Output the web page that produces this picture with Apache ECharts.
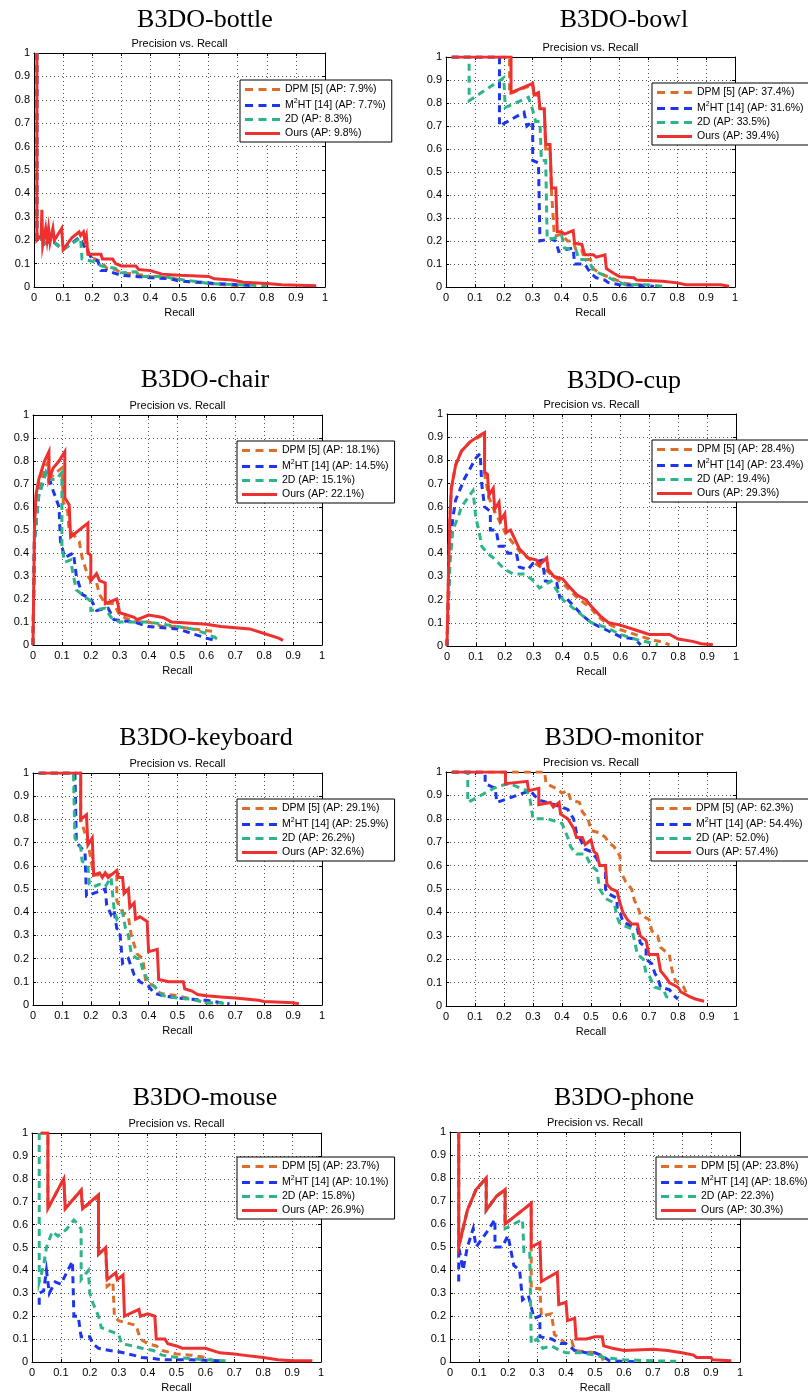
<!DOCTYPE html>
<html>
<head>
<meta charset="utf-8">
<title>B3DO Precision vs. Recall</title>
<script src="https://cdn.jsdelivr.net/npm/echarts@6/dist/echarts.min.js"></script>
<style>
  html, body { margin: 0; padding: 0; background: #fff; }
  #chart { width: 808px; height: 1394px; }
</style>
</head>
<body>
<div id="chart"></div>
<script>
// ---- Methods and colours ----
const METHODS = ['DPM [5]', 'M²HT [14]', '2D', 'Ours'];
const COLORS = ['#dd6d2a', '#1d35ee', '#2cb48b', '#ee3030'];
const CATEGORIES = ['B3DO-bottle', 'B3DO-bowl', 'B3DO-chair', 'B3DO-cup',
                    'B3DO-keyboard', 'B3DO-monitor', 'B3DO-mouse', 'B3DO-phone'];
const TICKS = [0, 0.1, 0.2, 0.3, 0.4, 0.5, 0.6, 0.7, 0.8, 0.9, 1];

// ---- Average precision per category: DPM, M2HT, 2D, Ours ----
const bottleAP = [7.9, 7.7, 8.3, 9.8];
const bowlAP = [37.4, 31.6, 33.5, 39.4];
const chairAP = [18.1, 14.5, 15.1, 22.1];
const cupAP = [28.4, 23.4, 19.4, 29.3];
const keyboardAP = [29.1, 25.9, 26.2, 32.6];
const monitorAP = [62.3, 54.4, 52.0, 57.4];
const mouseAP = [23.7, 10.1, 15.8, 26.9];
const phoneAP = [23.8, 18.6, 22.3, 30.3];

// ---- Precision/recall curves, [recall, precision] ----
const bottleDPM = [[0.01,1],[0.01,0.2],[0.025,0.22],[0.03,0.18],[0.06,0.2],[0.1,0.16],[0.155,0.21],[0.18,0.2],[0.19,0.13],[0.23,0.11],[0.25,0.08],[0.28,0.075],[0.3,0.06],[0.35,0.055],[0.4,0.045],[0.47,0.04],[0.52,0.025],[0.6,0.015],[0.65,0.01],[0.7,0.005]];
const bottleM2HT = [[0.01,1],[0.01,0.2],[0.025,0.22],[0.03,0.18],[0.06,0.2],[0.1,0.16],[0.155,0.21],[0.165,0.19],[0.2,0.12],[0.22,0.11],[0.23,0.07],[0.25,0.07],[0.3,0.05],[0.35,0.045],[0.4,0.04],[0.47,0.035],[0.5,0.025],[0.58,0.02],[0.62,0.015],[0.7,0.01],[0.76,0.005]];
const bottle2D = [[0.01,1],[0.01,0.2],[0.025,0.22],[0.03,0.18],[0.06,0.2],[0.1,0.16],[0.16,0.21],[0.165,0.12],[0.2,0.11],[0.22,0.1],[0.23,0.09],[0.28,0.08],[0.29,0.06],[0.35,0.065],[0.37,0.045],[0.45,0.045],[0.48,0.035],[0.55,0.025],[0.6,0.015],[0.7,0.01],[0.8,0.005]];
const bottleOurs = [[0.01,1],[0.01,0.2],[0.025,0.22],[0.027,0.33],[0.03,0.18],[0.04,0.25],[0.045,0.2],[0.05,0.25],[0.055,0.19],[0.065,0.25],[0.07,0.2],[0.095,0.25],[0.1,0.16],[0.13,0.21],[0.155,0.235],[0.16,0.22],[0.17,0.235],[0.175,0.2],[0.18,0.22],[0.185,0.14],[0.23,0.14],[0.235,0.12],[0.27,0.12],[0.28,0.1],[0.3,0.09],[0.35,0.09],[0.36,0.075],[0.4,0.07],[0.44,0.055],[0.5,0.05],[0.6,0.045],[0.62,0.035],[0.68,0.03],[0.72,0.02],[0.8,0.015],[0.85,0.01],[0.97,0.005]];

const bowlDPM = [[0.02,1],[0.22,1],[0.22,0.84],[0.3,0.88],[0.305,0.83],[0.32,0.84],[0.325,0.77],[0.34,0.77],[0.345,0.6],[0.36,0.6],[0.365,0.42],[0.37,0.42],[0.375,0.22],[0.4,0.23],[0.42,0.2],[0.44,0.2],[0.45,0.16],[0.47,0.16],[0.48,0.12],[0.5,0.12],[0.51,0.08],[0.53,0.06],[0.55,0.05],[0.57,0.04],[0.6,0.025],[0.62,0.015],[0.67,0.01],[0.7,0.005]];
const bowlM2HT = [[0.02,1],[0.185,1],[0.185,0.7],[0.27,0.76],[0.28,0.7],[0.3,0.72],[0.3,0.55],[0.32,0.54],[0.325,0.2],[0.36,0.21],[0.38,0.2],[0.39,0.155],[0.44,0.17],[0.445,0.1],[0.48,0.1],[0.5,0.06],[0.52,0.04],[0.55,0.03],[0.56,0.02],[0.6,0.01],[0.7,0.005],[0.72,0.002]];
const bowl2D = [[0.02,1],[0.08,1],[0.08,0.81],[0.2,0.91],[0.205,0.78],[0.285,0.825],[0.3,0.77],[0.31,0.72],[0.325,0.72],[0.33,0.55],[0.345,0.55],[0.35,0.21],[0.37,0.21],[0.4,0.225],[0.41,0.17],[0.45,0.16],[0.46,0.12],[0.48,0.12],[0.5,0.1],[0.51,0.07],[0.55,0.05],[0.58,0.03],[0.6,0.02],[0.62,0.01],[0.7,0.01],[0.75,0.003]];
const bowlOurs = [[0.02,1],[0.225,1],[0.225,0.845],[0.3,0.885],[0.305,0.835],[0.32,0.845],[0.325,0.775],[0.34,0.775],[0.345,0.62],[0.36,0.62],[0.365,0.43],[0.38,0.43],[0.385,0.24],[0.4,0.24],[0.41,0.23],[0.44,0.245],[0.445,0.19],[0.47,0.185],[0.48,0.14],[0.51,0.14],[0.52,0.13],[0.55,0.14],[0.555,0.08],[0.58,0.06],[0.6,0.045],[0.65,0.04],[0.66,0.03],[0.75,0.025],[0.8,0.018],[0.83,0.01],[0.95,0.01],[0.98,0.003]];

const chairDPM = [[0,0],[0.005,0.5],[0.02,0.68],[0.045,0.78],[0.055,0.8],[0.055,0.72],[0.08,0.75],[0.1,0.77],[0.105,0.62],[0.12,0.58],[0.125,0.5],[0.14,0.48],[0.16,0.45],[0.17,0.38],[0.19,0.3],[0.2,0.28],[0.22,0.27],[0.23,0.22],[0.25,0.18],[0.28,0.18],[0.3,0.13],[0.35,0.1],[0.4,0.1],[0.45,0.08],[0.5,0.08],[0.55,0.07],[0.62,0.06],[0.63,0.03]];
const chairM2HT = [[0,0],[0.005,0.45],[0.02,0.65],[0.045,0.75],[0.055,0.73],[0.07,0.67],[0.09,0.6],[0.095,0.45],[0.1,0.45],[0.11,0.38],[0.14,0.4],[0.15,0.3],[0.17,0.22],[0.2,0.2],[0.22,0.15],[0.26,0.16],[0.28,0.11],[0.35,0.1],[0.4,0.08],[0.45,0.075],[0.5,0.07],[0.55,0.05],[0.6,0.03],[0.63,0.02]];
const chair2D = [[0,0],[0.005,0.45],[0.02,0.65],[0.045,0.75],[0.055,0.72],[0.08,0.72],[0.1,0.75],[0.1,0.42],[0.11,0.36],[0.13,0.37],[0.14,0.3],[0.15,0.24],[0.18,0.21],[0.2,0.19],[0.2,0.15],[0.25,0.16],[0.27,0.12],[0.3,0.1],[0.4,0.1],[0.45,0.09],[0.5,0.08],[0.55,0.07],[0.6,0.05],[0.65,0.02]];
const chairOurs = [[0,0],[0.005,0.5],[0.01,0.65],[0.02,0.72],[0.04,0.8],[0.055,0.84],[0.055,0.72],[0.07,0.77],[0.09,0.8],[0.11,0.84],[0.11,0.64],[0.125,0.61],[0.13,0.47],[0.19,0.53],[0.19,0.4],[0.2,0.39],[0.2,0.28],[0.22,0.31],[0.23,0.28],[0.25,0.27],[0.25,0.18],[0.29,0.2],[0.3,0.14],[0.35,0.12],[0.36,0.11],[0.4,0.13],[0.45,0.12],[0.48,0.1],[0.6,0.09],[0.65,0.08],[0.75,0.07],[0.8,0.05],[0.85,0.03],[0.865,0.02]];

const cupDPM = [[0,0],[0.005,0.3],[0.01,0.55],[0.015,0.68],[0.03,0.78],[0.05,0.84],[0.08,0.88],[0.11,0.9],[0.13,0.915],[0.13,0.74],[0.145,0.64],[0.165,0.58],[0.185,0.53],[0.205,0.48],[0.25,0.41],[0.3,0.36],[0.35,0.32],[0.4,0.27],[0.45,0.21],[0.5,0.16],[0.52,0.13],[0.55,0.1],[0.6,0.07],[0.65,0.05],[0.7,0.03],[0.75,0.015],[0.77,0.005]];
const cupM2HT = [[0,0],[0.01,0.4],[0.02,0.55],[0.03,0.63],[0.06,0.72],[0.1,0.81],[0.115,0.83],[0.12,0.7],[0.13,0.6],[0.15,0.58],[0.15,0.5],[0.17,0.5],[0.18,0.43],[0.2,0.43],[0.21,0.4],[0.24,0.4],[0.25,0.34],[0.28,0.33],[0.3,0.36],[0.33,0.37],[0.34,0.28],[0.38,0.27],[0.39,0.21],[0.41,0.21],[0.44,0.17],[0.47,0.13],[0.5,0.1],[0.55,0.07],[0.6,0.04],[0.65,0.03],[0.67,0.005]];
const cup2D = [[0,0],[0.01,0.35],[0.02,0.5],[0.04,0.56],[0.05,0.6],[0.09,0.67],[0.1,0.55],[0.11,0.5],[0.12,0.43],[0.14,0.4],[0.16,0.38],[0.2,0.33],[0.23,0.31],[0.27,0.31],[0.3,0.28],[0.32,0.25],[0.36,0.28],[0.4,0.2],[0.45,0.15],[0.5,0.1],[0.55,0.08],[0.6,0.05],[0.65,0.03],[0.7,0.015],[0.73,0.005]];
const cupOurs = [[0,0],[0.005,0.3],[0.01,0.55],[0.015,0.68],[0.03,0.78],[0.05,0.84],[0.08,0.88],[0.11,0.905],[0.13,0.92],[0.13,0.75],[0.14,0.74],[0.145,0.65],[0.16,0.68],[0.165,0.59],[0.18,0.62],[0.185,0.54],[0.2,0.57],[0.205,0.49],[0.22,0.5],[0.25,0.42],[0.28,0.38],[0.31,0.37],[0.32,0.35],[0.345,0.38],[0.35,0.33],[0.37,0.3],[0.4,0.29],[0.42,0.26],[0.45,0.22],[0.48,0.2],[0.5,0.17],[0.53,0.13],[0.56,0.1],[0.6,0.09],[0.65,0.07],[0.7,0.05],[0.77,0.05],[0.8,0.03],[0.85,0.02],[0.88,0.01],[0.92,0.005]];

const keyboardDPM = [[0.02,1],[0.165,1],[0.165,0.8],[0.19,0.7],[0.21,0.56],[0.29,0.56],[0.29,0.45],[0.31,0.4],[0.33,0.38],[0.34,0.3],[0.36,0.22],[0.38,0.2],[0.39,0.1],[0.42,0.08],[0.44,0.05],[0.5,0.04],[0.55,0.025],[0.6,0.01],[0.64,0.005]];
const keyboardM2HT = [[0.02,1],[0.145,1],[0.15,0.7],[0.18,0.66],[0.185,0.47],[0.25,0.5],[0.255,0.43],[0.27,0.39],[0.28,0.41],[0.29,0.33],[0.3,0.32],[0.31,0.18],[0.33,0.2],[0.35,0.13],[0.37,0.1],[0.4,0.08],[0.42,0.05],[0.45,0.04],[0.5,0.03],[0.55,0.025],[0.6,0.02],[0.65,0.01],[0.68,0.005]];
const keyboard2D = [[0.02,1],[0.14,1],[0.145,0.72],[0.165,0.68],[0.17,0.62],[0.19,0.6],[0.195,0.52],[0.21,0.51],[0.23,0.52],[0.25,0.51],[0.27,0.55],[0.28,0.42],[0.29,0.37],[0.31,0.4],[0.32,0.33],[0.33,0.3],[0.34,0.22],[0.36,0.2],[0.37,0.2],[0.38,0.15],[0.4,0.1],[0.42,0.08],[0.45,0.04],[0.5,0.03],[0.55,0.025],[0.6,0.01],[0.65,0.01],[0.66,0.005]];
const keyboardOurs = [[0.02,1],[0.165,1],[0.165,0.8],[0.185,0.82],[0.19,0.69],[0.205,0.72],[0.21,0.56],[0.23,0.57],[0.24,0.55],[0.25,0.57],[0.26,0.55],[0.29,0.58],[0.295,0.55],[0.31,0.55],[0.315,0.48],[0.33,0.5],[0.335,0.42],[0.35,0.44],[0.355,0.37],[0.37,0.38],[0.395,0.36],[0.4,0.23],[0.43,0.24],[0.435,0.11],[0.47,0.1],[0.52,0.1],[0.525,0.07],[0.55,0.06],[0.57,0.045],[0.6,0.04],[0.65,0.035],[0.7,0.03],[0.78,0.02],[0.8,0.015],[0.9,0.01],[0.92,0.005]];

const monitorDPM = [[0.02,1],[0.34,1],[0.345,0.95],[0.38,0.93],[0.4,0.91],[0.42,0.92],[0.43,0.88],[0.46,0.87],[0.47,0.83],[0.49,0.8],[0.5,0.75],[0.53,0.74],[0.55,0.72],[0.56,0.7],[0.58,0.68],[0.6,0.64],[0.6,0.58],[0.62,0.53],[0.64,0.5],[0.65,0.45],[0.66,0.43],[0.67,0.39],[0.7,0.37],[0.71,0.32],[0.73,0.3],[0.74,0.25],[0.77,0.22],[0.78,0.15],[0.79,0.11],[0.82,0.08],[0.83,0.05],[0.84,0.04]];
const monitorM2HT = [[0.02,1],[0.135,1],[0.135,0.95],[0.17,0.93],[0.175,0.87],[0.29,0.92],[0.32,0.88],[0.4,0.85],[0.42,0.84],[0.44,0.8],[0.45,0.74],[0.46,0.72],[0.48,0.67],[0.5,0.66],[0.52,0.63],[0.53,0.6],[0.55,0.6],[0.55,0.5],[0.56,0.48],[0.59,0.46],[0.59,0.42],[0.6,0.4],[0.61,0.36],[0.64,0.34],[0.66,0.33],[0.67,0.27],[0.69,0.25],[0.69,0.2],[0.71,0.18],[0.72,0.14],[0.73,0.12],[0.74,0.08],[0.77,0.07],[0.79,0.04],[0.8,0.03]];
const monitor2D = [[0.02,1],[0.075,1],[0.075,0.87],[0.18,0.94],[0.22,0.95],[0.28,0.92],[0.29,0.88],[0.3,0.8],[0.35,0.8],[0.4,0.78],[0.42,0.72],[0.43,0.68],[0.45,0.65],[0.48,0.65],[0.5,0.6],[0.52,0.58],[0.53,0.5],[0.55,0.46],[0.58,0.44],[0.59,0.38],[0.6,0.35],[0.64,0.33],[0.65,0.28],[0.66,0.22],[0.68,0.2],[0.69,0.14],[0.7,0.13],[0.72,0.08],[0.75,0.07],[0.76,0.04],[0.78,0.03]];
const monitorOurs = [[0.02,1],[0.205,1],[0.205,0.95],[0.28,0.96],[0.285,0.92],[0.32,0.93],[0.32,0.86],[0.36,0.87],[0.37,0.85],[0.39,0.87],[0.395,0.82],[0.42,0.8],[0.43,0.78],[0.44,0.76],[0.45,0.72],[0.47,0.72],[0.48,0.69],[0.5,0.71],[0.51,0.66],[0.52,0.65],[0.53,0.6],[0.55,0.6],[0.555,0.52],[0.57,0.5],[0.59,0.49],[0.6,0.44],[0.61,0.4],[0.625,0.37],[0.64,0.35],[0.66,0.35],[0.67,0.3],[0.69,0.28],[0.7,0.22],[0.73,0.22],[0.74,0.15],[0.76,0.12],[0.77,0.1],[0.8,0.08],[0.81,0.06],[0.84,0.04],[0.86,0.03],[0.89,0.02]];

const mouseDPM = [[0.03,1],[0.055,1],[0.055,0.67],[0.11,0.8],[0.115,0.67],[0.17,0.75],[0.175,0.67],[0.23,0.72],[0.23,0.47],[0.255,0.5],[0.26,0.33],[0.28,0.35],[0.285,0.2],[0.3,0.18],[0.36,0.16],[0.375,0.1],[0.4,0.08],[0.43,0.07],[0.45,0.05],[0.5,0.035],[0.55,0.03],[0.6,0.02],[0.63,0.005]];
const mouseM2HT = [[0.025,0.25],[0.025,0.3],[0.04,0.31],[0.05,0.4],[0.06,0.3],[0.08,0.35],[0.1,0.34],[0.14,0.44],[0.145,0.2],[0.16,0.2],[0.17,0.11],[0.2,0.11],[0.21,0.08],[0.23,0.06],[0.27,0.05],[0.3,0.045],[0.35,0.03],[0.38,0.02],[0.42,0.015],[0.45,0.01],[0.55,0.01],[0.65,0.005]];
const mouse2D = [[0.025,1],[0.025,0.35],[0.04,0.42],[0.05,0.5],[0.07,0.57],[0.09,0.55],[0.12,0.58],[0.145,0.62],[0.16,0.6],[0.17,0.58],[0.17,0.36],[0.195,0.4],[0.2,0.3],[0.21,0.26],[0.23,0.2],[0.24,0.15],[0.28,0.13],[0.3,0.12],[0.31,0.08],[0.35,0.07],[0.38,0.06],[0.42,0.05],[0.45,0.03],[0.5,0.02],[0.6,0.01],[0.67,0.005]];
const mouseOurs = [[0.03,1],[0.055,1],[0.055,0.67],[0.11,0.8],[0.115,0.67],[0.17,0.75],[0.175,0.67],[0.23,0.73],[0.23,0.47],[0.255,0.5],[0.26,0.36],[0.29,0.39],[0.295,0.36],[0.315,0.38],[0.32,0.2],[0.37,0.23],[0.375,0.2],[0.4,0.21],[0.425,0.2],[0.43,0.1],[0.46,0.1],[0.47,0.08],[0.5,0.07],[0.52,0.06],[0.6,0.06],[0.65,0.04],[0.7,0.035],[0.73,0.03],[0.8,0.02],[0.85,0.01],[0.9,0.005],[0.97,0.005]];

const phoneDPM = [[0.03,1],[0.03,0.5],[0.06,0.66],[0.09,0.75],[0.125,0.8],[0.125,0.66],[0.16,0.72],[0.19,0.75],[0.19,0.6],[0.28,0.69],[0.28,0.32],[0.31,0.32],[0.315,0.2],[0.35,0.21],[0.36,0.12],[0.4,0.08],[0.42,0.09],[0.43,0.05],[0.5,0.04],[0.52,0.03],[0.53,0.005]];
const phoneM2HT = [[0.03,0.35],[0.03,0.5],[0.045,0.4],[0.06,0.5],[0.08,0.58],[0.09,0.5],[0.13,0.57],[0.155,0.62],[0.155,0.5],[0.18,0.5],[0.2,0.55],[0.22,0.42],[0.24,0.4],[0.25,0.27],[0.27,0.29],[0.29,0.19],[0.31,0.2],[0.31,0.11],[0.35,0.1],[0.38,0.08],[0.4,0.08],[0.43,0.05],[0.47,0.04],[0.5,0.04],[0.52,0.03],[0.55,0.005],[0.6,0.003],[0.65,0.001]];
const phone2D = [[0.03,1],[0.03,0.5],[0.06,0.66],[0.09,0.75],[0.125,0.8],[0.125,0.66],[0.16,0.72],[0.19,0.75],[0.19,0.58],[0.22,0.6],[0.25,0.62],[0.255,0.48],[0.275,0.48],[0.28,0.08],[0.3,0.1],[0.32,0.06],[0.35,0.07],[0.38,0.05],[0.4,0.04],[0.45,0.04],[0.5,0.03],[0.53,0.02],[0.6,0.01],[0.7,0.005],[0.78,0.003]];
const phoneOurs = [[0.03,1],[0.03,0.5],[0.06,0.66],[0.09,0.75],[0.125,0.8],[0.125,0.66],[0.16,0.72],[0.19,0.75],[0.19,0.6],[0.28,0.69],[0.28,0.5],[0.31,0.52],[0.315,0.35],[0.37,0.39],[0.375,0.25],[0.4,0.26],[0.405,0.18],[0.43,0.19],[0.435,0.1],[0.47,0.1],[0.5,0.11],[0.525,0.11],[0.53,0.07],[0.56,0.06],[0.6,0.05],[0.7,0.055],[0.75,0.05],[0.8,0.04],[0.84,0.03],[0.85,0.02],[0.9,0.02],[0.905,0.01],[0.97,0.005]];

// ---- Panels, in reading order ----
const panelAP = [bottleAP, bowlAP, chairAP, cupAP, keyboardAP, monitorAP, mouseAP, phoneAP];
const panelCurves = [
  [bottleDPM, bottleM2HT, bottle2D, bottleOurs],
  [bowlDPM, bowlM2HT, bowl2D, bowlOurs],
  [chairDPM, chairM2HT, chair2D, chairOurs],
  [cupDPM, cupM2HT, cup2D, cupOurs],
  [keyboardDPM, keyboardM2HT, keyboard2D, keyboardOurs],
  [monitorDPM, monitorM2HT, monitor2D, monitorOurs],
  [mouseDPM, mouseM2HT, mouse2D, mouseOurs],
  [phoneDPM, phoneM2HT, phone2D, phoneOurs]
];

// ---- Layout of each panel (pixels): plot box, title centre, legend corner ----
const LAYOUT = [
  { grid: [34, 53, 291, 234],  titleX: 205, titleY: 20,   legend: [240, 80] },
  { grid: [446, 57, 289, 230], titleX: 624, titleY: 20,   legend: [652, 83] },
  { grid: [33, 415, 289, 230], titleX: 205, titleY: 380,  legend: [237, 441] },
  { grid: [447, 414, 289, 232], titleX: 624, titleY: 381, legend: [652, 440] },
  { grid: [33, 773, 289, 232], titleX: 206, titleY: 738,  legend: [237, 799] },
  { grid: [446, 772, 290, 234], titleX: 624, titleY: 738, legend: [651, 799] },
  { grid: [32, 1133, 289, 233], titleX: 205, titleY: 1098, legend: [237, 1157] },
  { grid: [450, 1132, 290, 234], titleX: 624, titleY: 1098, legend: [656, 1157] }
];

// Legend keys: three dashes for dashed curves, one bar for the solid curve
const ICON_DASHED = 'path://M0,0h8v3h-8z M13.5,0h8v3h-8z M27,0h8v3h-8z';
const ICON_SOLID = 'path://M0,0h35v3h-35z';

const SANS = '"Liberation Sans", Arial, Helvetica, sans-serif';
const SERIF = '"Liberation Serif", "Times New Roman", serif';

const tickFmt = v => String(+v.toFixed(1));

const grids = [], xAxes = [], yAxes = [], legends = [], series = [], graphics = [];

CATEGORIES.forEach((cat, i) => {
  const L = LAYOUT[i];
  const [gl, gt, gw, gh] = L.grid;
  grids.push({ left: gl, top: gt, width: gw, height: gh, show: false });

  const baseAxis = {
    gridIndex: i, type: 'value', min: TICKS[0], max: TICKS[TICKS.length - 1], interval: 0.1
  };
  const boxLine = { show: true, onZero: false, lineStyle: { color: '#000', width: 1 } };
  const boxTick = { show: true, inside: true, length: 3, lineStyle: { color: '#000' } };
  const dotted = { show: true, lineStyle: { type: [1, 3], color: '#555', width: 1 } };

  // bottom / left axes carry labels and the dotted grid
  xAxes.push(Object.assign({}, baseAxis, {
    position: 'bottom',
    name: 'Recall', nameLocation: 'middle', nameGap: 20,
    nameTextStyle: { fontSize: 11, color: '#000', fontFamily: SANS },
    axisLine: boxLine, axisTick: boxTick,
    axisLabel: { formatter: tickFmt, fontSize: 11, color: '#000', margin: 5, fontFamily: SANS },
    splitLine: dotted
  }));
  // top / right axes close the box
  xAxes.push(Object.assign({}, baseAxis, {
    position: 'top',
    axisLine: boxLine, axisTick: boxTick,
    axisLabel: { show: false }, splitLine: { show: false }
  }));
  yAxes.push(Object.assign({}, baseAxis, {
    position: 'left',
    axisLine: boxLine, axisTick: boxTick,
    axisLabel: { formatter: tickFmt, fontSize: 11, color: '#000', margin: 4, fontFamily: SANS },
    splitLine: dotted
  }));
  yAxes.push(Object.assign({}, baseAxis, {
    position: 'right',
    axisLine: boxLine, axisTick: boxTick,
    axisLabel: { show: false }, splitLine: { show: false }
  }));

  const legendData = [];
  METHODS.forEach((m, k) => {
    const name = m + ' (AP: ' + panelAP[i][k].toFixed(1) + '%)';
    legendData.push({ name: name, icon: k === 3 ? ICON_SOLID : ICON_DASHED });
    series.push({
      type: 'line', name: name,
      xAxisIndex: 2 * i, yAxisIndex: 2 * i,
      data: panelCurves[i][k],
      symbol: 'none', showSymbol: false, smooth: false,
      lineStyle: { color: COLORS[k], width: 3, type: k === 3 ? 'solid' : [7, 5], cap: 'butt', join: 'miter' },
      itemStyle: { color: COLORS[k] },
      z: 2 + k,
      animation: false
    });
  });

  legends.push({
    data: legendData,
    orient: 'vertical',
    left: L.legend[0], top: L.legend[1],
    backgroundColor: '#fff', borderColor: '#000', borderWidth: 1, borderRadius: 0,
    padding: [4, 6, 3, 5],
    itemGap: 3, itemWidth: 35, itemHeight: 3,
    z: 8,
    formatter: n => {
      if (n.indexOf('²') >= 0) {
        const parts = n.split('²');
        return '{t|' + parts[0] + '}{s|2}{t|' + parts[1] + '}';
      }
      return '{t|' + n + '}';
    },
    textStyle: {
      fontSize: 10.5, color: '#000', fontFamily: SANS,
      rich: {
        t: { fontSize: 10.5, lineHeight: 11, color: '#000', fontFamily: SANS, verticalAlign: 'bottom' },
        s: { fontSize: 7, lineHeight: 8, color: '#000', fontFamily: SANS, padding: [0, 0, 6, 0], verticalAlign: 'bottom' }
      }
    }
  });

  graphics.push({
    type: 'text', x: L.titleX, y: L.titleY, z: 20,
    style: { text: cat, font: '26px ' + SERIF, fill: '#000', textAlign: 'center', textVerticalAlign: 'middle', verticalAlign: 'middle' }
  });
  graphics.push({
    type: 'text', x: gl + gw / 2, y: gt - 9.5, z: 20,
    style: { text: 'Precision vs. Recall', font: '11px ' + SANS, fill: '#000', textAlign: 'center', textVerticalAlign: 'middle', verticalAlign: 'middle' }
  });
});

const chart = echarts.init(document.getElementById('chart'), null, { renderer: 'canvas' });
chart.setOption({
  animation: false,
  backgroundColor: '#fff',
  grid: grids,
  xAxis: xAxes,
  yAxis: yAxes,
  legend: legends,
  series: series,
  graphic: graphics
});
</script>
</body>
</html>
